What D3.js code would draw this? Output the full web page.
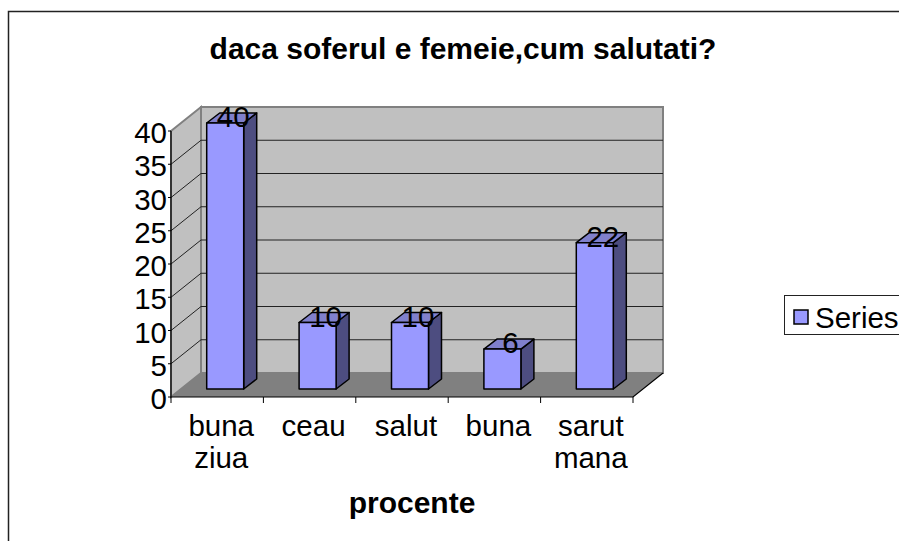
<!DOCTYPE html>
<html>
<head>
<meta charset="utf-8">
<script src="https://cdn.jsdelivr.net/npm/d3@7"></script>
<style>
    html, body { margin: 0; padding: 0; background: #fff; }
    svg { display: block; font-family: "Liberation Sans", Arial, sans-serif; fill: #000; }
</style>
</head>
<body>
<svg id="chart" width="899" height="541"></svg>
<script>
var categories = ["buna ziua", "ceau", "salut", "buna", "sarut mana"];
var values = [40, 10, 10, 6, 22];
var yTicks = [0, 5, 10, 15, 20, 25, 30, 35, 40];
var titleText = "daca soferul e femeie,cum salutati?";
var axisTitle = "procente";
var seriesName = "Series";

var svg = d3.select("#chart");

// plot front face and the 3d offset of the back wall
var left = 171, right = 633, top3d = 131, bottom = 397;
var depthX = 30, depthY = -24;
var barDepthX = 13, barDepthY = -10;
var fontSize = 29.5;

var x = d3.scaleBand()
    .domain(categories)
    .range([left, right]);

var y = d3.scaleLinear()
    .domain([0, 40])
    .range([bottom, top3d]);

var barWidth = 37;

function points(p) {
    return p.map(function(d) { return d.join(","); }).join(" ");
}

// outer frame, open towards the right and bottom edges
svg.append("path")
    .attr("d", "M8.5,541V11.5H899")
    .attr("fill", "none")
    .attr("stroke", "#222")
    .attr("stroke-width", 1.5);

svg.append("text")
    .attr("x", 463)
    .attr("y", 59)
    .attr("text-anchor", "middle")
    .attr("font-weight", "bold")
    .attr("font-size", 30)
    .text(titleText);

// walls
svg.append("polygon")
    .attr("points", points([[left + depthX, y(40) + depthY], [right + depthX, y(40) + depthY],
        [right + depthX, y(0) + depthY], [left + depthX, y(0) + depthY]]))
    .attr("fill", "#c0c0c0")
    .attr("stroke", "#808080")
    .attr("stroke-width", 2);

svg.append("polygon")
    .attr("points", points([[left, y(40)], [left + depthX, y(40) + depthY],
        [left + depthX, y(0) + depthY], [left, y(0)]]))
    .attr("fill", "#c0c0c0")
    .attr("stroke", "#808080")
    .attr("stroke-width", 2);

svg.append("polygon")
    .attr("points", points([[left, y(0)], [left + depthX, y(0) + depthY],
        [right + depthX, y(0) + depthY], [right, y(0)]]))
    .attr("fill", "#808080");

// gridlines, they run along the side wall and then along the back wall
svg.selectAll("path.grid")
    .data(yTicks.filter(function(d) { return d > 0 && d < 40; }))
  .enter().append("path")
    .attr("class", "grid")
    .attr("fill", "none")
    .attr("stroke", "#222")
    .attr("stroke-width", 1)
    .attr("d", function(d) {
        return "M" + left + "," + y(d) + "L" + (left + depthX) + "," + (y(d) + depthY) + "H" + (right + depthX);
    });

// axes
svg.append("path")
    .attr("d", "M" + left + "," + y(40) + "V" + y(0) + "H" + right + "L" + (right + depthX) + "," + (y(0) + depthY))
    .attr("fill", "none")
    .attr("stroke", "#000")
    .attr("stroke-width", 1.2);

svg.selectAll("line.ytick")
    .data(yTicks)
  .enter().append("line")
    .attr("class", "ytick")
    .attr("x1", left - 3)
    .attr("x2", left)
    .attr("y1", function(d) { return y(d); })
    .attr("y2", function(d) { return y(d); })
    .attr("stroke", "#000");

svg.selectAll("text.ylabel")
    .data(yTicks)
  .enter().append("text")
    .attr("class", "ylabel")
    .attr("x", left - 4)
    .attr("y", function(d) { return y(d) + 12; })
    .attr("text-anchor", "end")
    .attr("font-size", fontSize)
    .text(function(d) { return d; });

var xTicks = categories.map(function(d) { return x(d); }).concat([right]);

svg.selectAll("line.xtick")
    .data(xTicks)
  .enter().append("line")
    .attr("class", "xtick")
    .attr("x1", function(d) { return d; })
    .attr("x2", function(d) { return d; })
    .attr("y1", bottom)
    .attr("y2", bottom + 6)
    .attr("stroke", "#000");

// bars
var bar = svg.selectAll("g.bar")
    .data(categories.map(function(c, i) { return { c: c, v: values[i] }; }))
  .enter().append("g")
    .attr("class", "bar")
    .attr("transform", function(d) {
        return "translate(" + (x(d.c) + x.bandwidth() / 2 + 8 - barWidth / 2) + "," + (-8) + ")";
    });

bar.append("polygon")
    .attr("points", function(d) {
        return points([[barWidth, y(d.v)], [barWidth + barDepthX, y(d.v) + barDepthY],
            [barWidth + barDepthX, y(0) + barDepthY], [barWidth, y(0)]]);
    })
    .attr("fill", "#4d4d80");

bar.append("polygon")
    .attr("points", function(d) {
        return points([[0, y(d.v)], [barDepthX, y(d.v) + barDepthY],
            [barWidth + barDepthX, y(d.v) + barDepthY], [barWidth, y(d.v)]]);
    })
    .attr("fill", "#8080cc");

bar.append("rect")
    .attr("x", 0)
    .attr("y", function(d) { return y(d.v); })
    .attr("width", barWidth)
    .attr("height", function(d) { return y(0) - y(d.v); })
    .attr("fill", "#9999ff");

bar.selectAll("polygon, rect")
    .attr("stroke", "#000")
    .attr("stroke-width", 1.5)
    .attr("stroke-linejoin", "round");

bar.append("text")
    .attr("x", barWidth / 2 + 8)
    .attr("y", function(d) { return y(d.v) + 4; })
    .attr("text-anchor", "middle")
    .attr("font-size", fontSize)
    .text(function(d) { return d.v; });

// category labels wrap on the space
svg.selectAll("text.xlabel")
    .data(categories)
  .enter().append("text")
    .attr("class", "xlabel")
    .attr("y", 436)
    .attr("text-anchor", "middle")
    .attr("font-size", fontSize)
    .each(function(d) {
        var cx = x(d) + x.bandwidth() / 2 + 4;
        d3.select(this).selectAll("tspan")
            .data(d.split(" "))
          .enter().append("tspan")
            .attr("x", cx)
            .attr("dy", function(w, i) { return i ? 32 : 0; })
            .text(function(w) { return w; });
    });

svg.append("text")
    .attr("x", 412)
    .attr("y", 513)
    .attr("text-anchor", "middle")
    .attr("font-weight", "bold")
    .attr("font-size", 30)
    .text(axisTitle);

// legend, it runs off the right edge
svg.append("rect")
    .attr("x", 784.5)
    .attr("y", 295.5)
    .attr("width", 130)
    .attr("height", 39)
    .attr("fill", "#fff")
    .attr("stroke", "#222");

svg.append("rect")
    .attr("x", 794)
    .attr("y", 310)
    .attr("width", 14)
    .attr("height", 14)
    .attr("fill", "#9999ff")
    .attr("stroke", "#000")
    .attr("stroke-width", 1.5);

svg.append("text")
    .attr("x", 815)
    .attr("y", 328)
    .attr("font-size", fontSize)
    .text(seriesName);
</script>
</body>
</html>
